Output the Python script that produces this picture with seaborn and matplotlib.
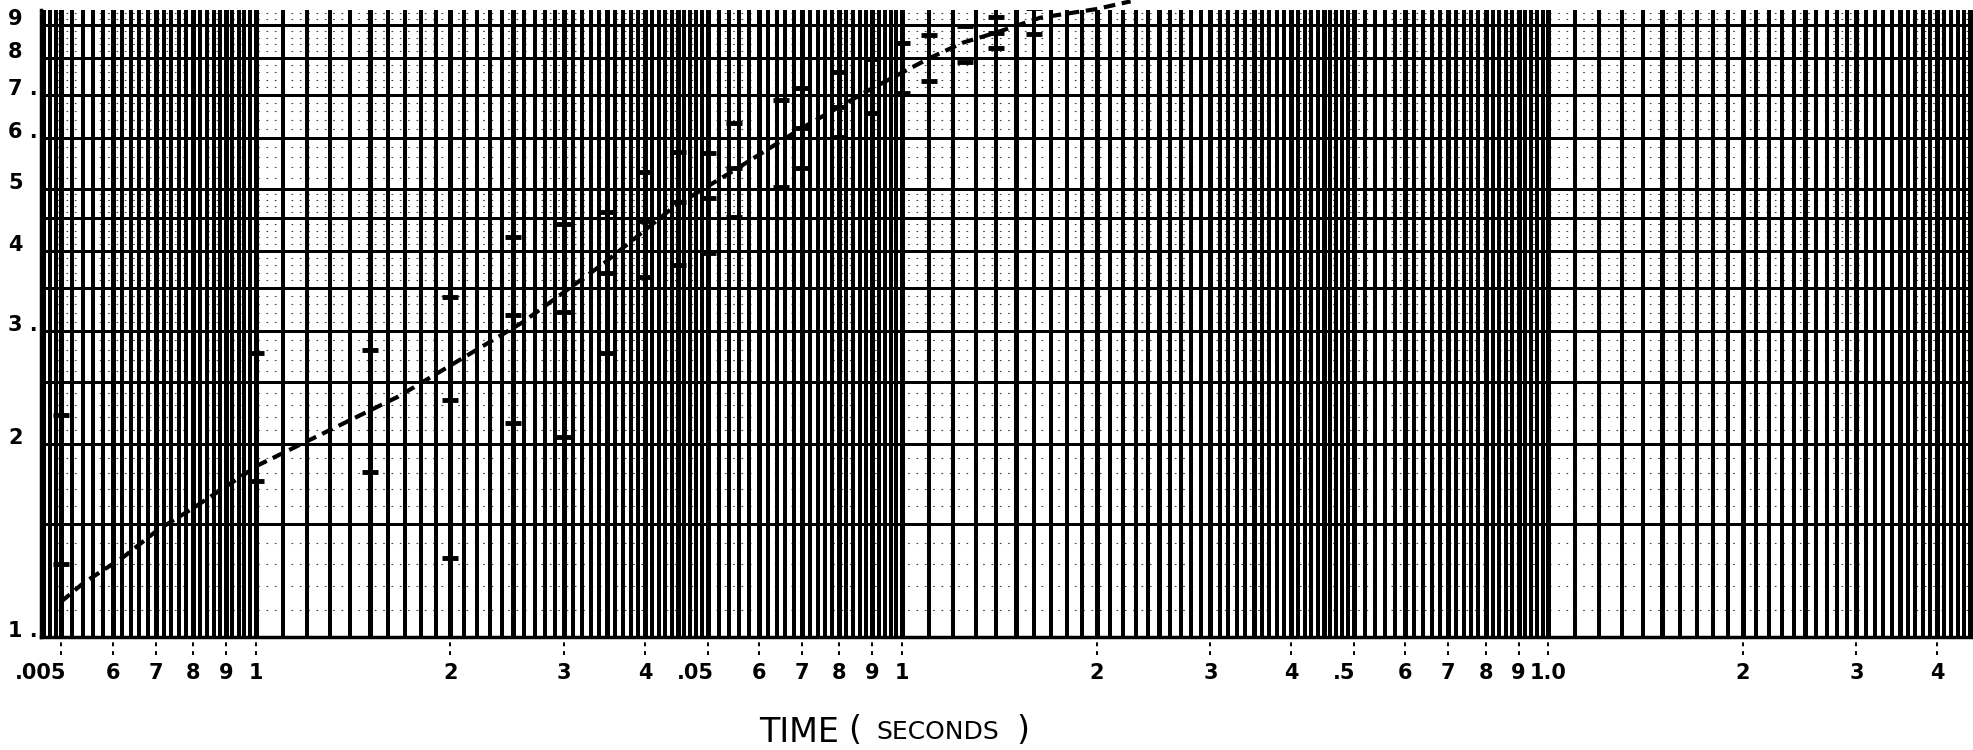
import numpy as np
import pandas as pd
import matplotlib
matplotlib.use('Agg')
import matplotlib.pyplot as plt
import matplotlib.transforms as mtransforms
from matplotlib.ticker import NullLocator
import seaborn as sns

time_s = [0.005, 0.005,
          0.01, 0.01,
          0.015, 0.015,
          0.02, 0.02, 0.02,
          0.025, 0.025, 0.025,
          0.03, 0.03, 0.03,
          0.035, 0.035, 0.035,
          0.04, 0.04, 0.04,
          0.045, 0.045, 0.045,
          0.05, 0.05, 0.05,
          0.055, 0.055, 0.055,
          0.065, 0.065,
          0.07, 0.07, 0.07,
          0.08, 0.08, 0.08,
          0.09, 0.09,
          0.1, 0.1,
          0.11, 0.11,
          0.125, 0.125,
          0.14, 0.14, 0.14,
          0.16, 0.16]
ratio = [2.22, 1.30,
         2.77, 1.75,
         2.80, 1.81,
         3.39, 2.34, 1.33,
         4.21, 3.18, 2.16,
         4.41, 3.21, 2.05,
         4.60, 3.70, 2.77,
         5.31, 4.45, 3.64,
         5.71, 4.77, 3.80,
         5.69, 4.83, 3.97,
         6.34, 5.39, 4.52,
         6.88, 5.04,
         7.19, 6.22, 5.39,
         7.61, 6.71, 6.03,
         7.98, 6.57,
         8.45, 7.06,
         8.67, 7.37,
         8.98, 7.88,
         9.28, 8.76, 8.30,
         9.56, 8.72]

# hand drawn dashed curve
curve_t = [0.00499, 0.00541, 0.00624, 0.00705, 0.0080, 0.0101, 0.0166, 0.0258,
           0.0346, 0.0444, 0.0551, 0.0700, 0.0892, 0.1105, 0.1243, 0.1398,
           0.1636, 0.1997, 0.2258]
curve_r = [1.134, 1.214, 1.333, 1.469, 1.589, 1.855, 2.37, 3.09,
           3.83, 4.69, 5.35, 6.22, 7.14, 8.0, 8.45, 8.76,
           9.24, 9.53, 9.8]

x_ticks = [0.005, 0.006, 0.007, 0.008, 0.009, 0.01, 0.02, 0.03, 0.04, 0.05,
           0.06, 0.07, 0.08, 0.09, 0.1, 0.2, 0.3, 0.4, 0.5, 0.6, 0.7, 0.8,
           0.9, 1.0, 2.0, 3.0, 4.0]
x_labels = ['.005', '6', '7', '8', '9', '1', '2', '3', '4', '.05',
            '6', '7', '8', '9', '1', '2', '3', '4', '.5', '6', '7', '8',
            '9', '1.0', '2', '3', '4']
y_ticks = [1, 2, 3, 4, 5, 6, 7, 8, 9]
y_labels = ['1 .', '2', '3 .', '4', '5', '6 .', '7 .', '8', '9']

points = pd.DataFrame({'time': time_s, 'ratio': ratio})
curve = pd.DataFrame({'time': curve_t, 'ratio': curve_r})

sns.set_style('white')
plt.rcParams['font.family'] = ['DejaVu Sans']
plt.rcParams['text.color'] = 'k'
plt.rcParams['xtick.color'] = 'k'

fig = plt.figure(figsize=(19.74, 7.5), dpi=100)
ax = fig.add_axes([41 / 1974, 113 / 750, 1933 / 1974, 627 / 750])
ax.set_xscale('log')
ax.set_yscale('log')
ax.set_xlim(0.00465, 4.56)
ax.set_ylim(1, 9.5)

# graph paper rulings
mant = np.r_[np.arange(1, 5, 0.1), np.arange(5, 10, 0.2)]
heavy = [1, 1.5, 2, 2.5, 3, 3.5, 4, 4.5, 5, 6, 7, 8, 9]
is_heavy = np.array([np.isclose(m, heavy).any() for m in mant])

vx = np.concatenate([d * mant for d in [0.001, 0.01, 0.1, 1.0]])
vh = np.concatenate([is_heavy for d in range(4)])
ax.vlines(vx[~vh], 0, 1, transform=ax.get_xaxis_transform(), color='k', lw=1.5,
          antialiased=False, zorder=1)
ax.vlines(vx[vh], 0, 1, transform=ax.get_xaxis_transform(), color='k', lw=2.4,
          antialiased=False, zorder=1)

ax.hlines(mant[is_heavy], 0, 1, transform=ax.get_yaxis_transform(), color='k', lw=1.8,
          antialiased=False, zorder=1)
ax.hlines(mant[~is_heavy], 0, 1, transform=ax.get_yaxis_transform(), color='k', lw=0.8,
          linestyles=(0, (1.5, 6)), alpha=0.75, zorder=1)

sns.lineplot(data=curve, x='time', y='ratio', sort=False, estimator=None, ax=ax,
             color='k', linewidth=3.0, linestyle=(0, (2.8, 1.6)), zorder=3, clip_on=False)
sns.scatterplot(data=points, x='time', y='ratio', ax=ax, marker='_', s=130,
                linewidth=3.5, color='k', zorder=4)

for sp in ['top', 'right']:
    ax.spines[sp].set_visible(False)
ax.spines['left'].set_linewidth(2.5)
ax.spines['bottom'].set_linewidth(2.5)
ax.spines['left'].set_color('k')
ax.spines['bottom'].set_color('k')

ax.xaxis.set_minor_locator(NullLocator())
ax.yaxis.set_minor_locator(NullLocator())
ax.set_xticks(x_ticks)
ax.set_xticklabels(x_labels, fontsize=15, fontweight='bold', color='k')
ax.tick_params(axis='x', length=0, pad=19)
ax.set_yticks([])
ax.set_xlabel('')
ax.set_ylabel('')

# labels with a leading point hang a little to the left of their rule
for lab in ax.get_xticklabels():
    if lab.get_text() in ('.005', '.05', '.5'):
        lab.set_ha('right')
        dx = {'.005': 5, '.05': 6, '.5': 2}[lab.get_text()]
        lab.set_transform(lab.get_transform() +
                          mtransforms.ScaledTranslation(dx / 100, 0, fig.dpi_scale_trans))

# dashed tick marks under the axis
ax.vlines(x_ticks, -0.028, -0.004, transform=ax.get_xaxis_transform(), clip_on=False,
          color='k', lw=1.4, linestyles=(0, (2, 2.5)))

# value labels at the left edge
shift = mtransforms.ScaledTranslation(0, 6 / 100, fig.dpi_scale_trans)
for v, lab in zip(y_ticks, y_labels):
    ax.text(-0.017, v, lab, transform=ax.get_yaxis_transform() + shift,
            ha='left', va='center', fontsize=15, fontweight='bold', color='k')

fig.text(0.405, 0.024, 'TIME', fontsize=24, ha='center', va='center', color='k')
fig.text(0.433, 0.026, '(', fontsize=24, ha='center', va='center', color='k')
fig.text(0.475, 0.024, 'SECONDS', fontsize=18, ha='center', va='center', color='k')
fig.text(0.518, 0.026, ')', fontsize=24, ha='center', va='center', color='k')

fig.savefig('out.png', dpi=100, facecolor='white')
plt.close(fig)
